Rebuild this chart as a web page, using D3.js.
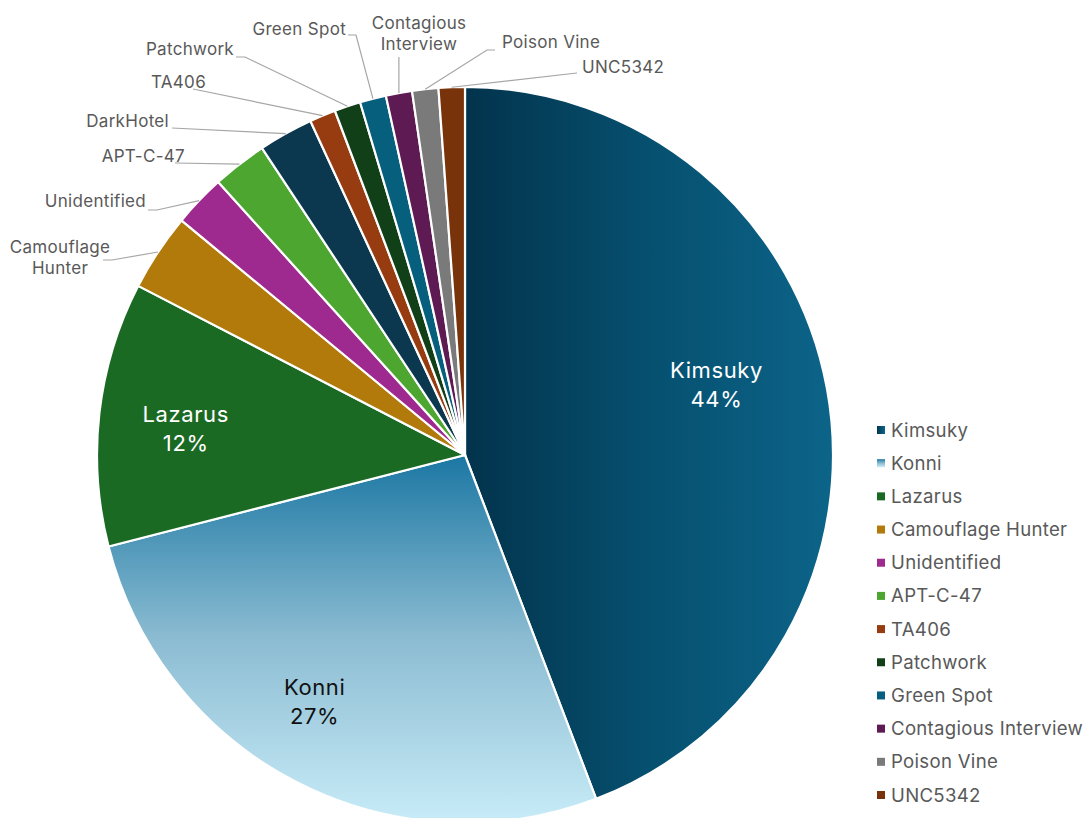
<!DOCTYPE html>
<html>
<head>
<meta charset="utf-8">
<script src="https://cdn.jsdelivr.net/npm/d3@7"></script>
<style>
  body { margin: 0; background: #ffffff; }
  text { font-family: Inter, "Noto Sans", sans-serif; }
</style>
</head>
<body>
<svg id="chart" width="1088" height="818"></svg>
<script>
// Share of observed activity by threat group (percent), clockwise from 12 o'clock
const groups = ["Kimsuky", "Konni", "Lazarus", "Camouflage Hunter", "Unidentified", "APT-C-47",
                "DarkHotel", "TA406", "Patchwork", "Green Spot", "Contagious Interview", "Poison Vine", "UNC5342"];
const shares = [44.2, 26.8, 11.6, 3.4, 2.3, 2.4, 2.4, 1.15, 1.15, 1.15, 1.15, 1.15, 1.15];

// Groups listed in the legend
const legendGroups = ["Kimsuky", "Konni", "Lazarus", "Camouflage Hunter", "Unidentified", "APT-C-47",
                      "TA406", "Patchwork", "Green Spot", "Contagious Interview", "Poison Vine", "UNC5342"];

// Groups labelled inside their slice (name + percent)
const insideLabelled = ["Kimsuky", "Konni", "Lazarus"];

const solidColors = {
  "Lazarus": "#1b6a24",
  "Camouflage Hunter": "#b27a0b",
  "Unidentified": "#9e2a8f",
  "APT-C-47": "#4ca62f",
  "DarkHotel": "#0b374f",
  "TA406": "#963c10",
  "Patchwork": "#113f17",
  "Green Spot": "#075f7e",
  "Contagious Interview": "#5e1a53",
  "Poison Vine": "#7a7a7a",
  "UNC5342": "#79330a"
};

const svg = d3.select("#chart");
const cx = 465, cy = 455, R = 368;

// Gradient fills for the two largest slices
const defs = svg.append("defs");
function gradient(id, units, x1, y1, x2, y2, stops) {
  const g = defs.append("linearGradient").attr("id", id).attr("gradientUnits", units)
    .attr("x1", x1).attr("y1", y1).attr("x2", x2).attr("y2", y2);
  stops.forEach(([o, c]) => g.append("stop").attr("offset", o).attr("stop-color", c));
}
const kimsukyStops = [[0, "#03334c"], [0.5, "#06506f"], [1, "#0c6489"]];
const konniStops = [[0, "#1b77a3"], [0.5, "#8cbcd2"], [1, "#c8ecf8"]];
// Slices are drawn in a group centred on the pie, so these run from the centre outwards
gradient("kimsukyFill", "userSpaceOnUse", 0, 0, R, 0, kimsukyStops);
gradient("konniFill", "userSpaceOnUse", 0, 0, 0, R, konniStops);
gradient("kimsukyKey", "objectBoundingBox", 0, 0, 1, 0, kimsukyStops);
gradient("konniKey", "objectBoundingBox", 0, 0, 0, 1, konniStops);

const fillFor = name => name === "Kimsuky" ? "url(#kimsukyFill)"
                      : name === "Konni" ? "url(#konniFill)" : solidColors[name];
const keyFillFor = name => name === "Kimsuky" ? "url(#kimsukyKey)"
                         : name === "Konni" ? "url(#konniKey)" : solidColors[name];

const data = groups.map((g, i) => ({ name: g, share: shares[i] }));
const total = d3.sum(shares);
const pct = v => Math.round(v / total * 100) + "%";

const pie = d3.pie().sort(null).value(d => d.share);
const arcs = pie(data);
const arc = d3.arc().innerRadius(0).outerRadius(R);

const plot = svg.append("g").attr("transform", `translate(${cx},${cy})`);
plot.selectAll("path.slice").data(arcs).join("path")
  .attr("class", "slice")
  .attr("d", arc)
  .attr("fill", d => fillFor(d.data.name))
  .attr("stroke", "#ffffff")
  .attr("stroke-width", 2.2)
  .attr("stroke-linejoin", "round");

// Point on the pie edge at a slice's mid-angle (page coordinates)
function edgePoint(d, r) {
  const a = (d.startAngle + d.endAngle) / 2;
  return [cx + r * Math.sin(a), cy - r * Math.cos(a)];
}

// Inside labels: placed near the slice centroid with a small nudge
const insideLayout = {
  "Kimsuky": { r: 275, dx: -19, dy: -23, color: "#ffffff" },
  "Konni":   { r: 275, dx: -24, dy: 0,   color: "#111111" },
  "Lazarus": { r: 275, dx: -6,  dy: 2,   color: "#ffffff" }
};
arcs.filter(d => insideLabelled.includes(d.data.name)).forEach(d => {
  const L = insideLayout[d.data.name];
  const [x, y] = edgePoint(d, L.r);
  const t = svg.append("text")
    .attr("x", x + L.dx).attr("y", y + L.dy)
    .attr("text-anchor", "middle")
    .attr("fill", L.color)
    .style("font-size", "22px")
    .style("letter-spacing", "0.6px");
  t.append("tspan").attr("x", x + L.dx).attr("dy", "-0.2em").text(d.data.name);
  t.append("tspan").attr("x", x + L.dx).attr("dy", "1.33em").text(pct(d.data.share));
});

// Outside labels with leader lines
const outsideLayout = {
  "Camouflage Hunter":    { x: 60,  y: 247, anchor: "middle", lines: ["Camouflage", "Hunter"], via: [[103, 260], [112, 260]] },
  "Unidentified":         { x: 146, y: 201, anchor: "end",    lines: ["Unidentified"], via: [[148, 210], [157, 210]] },
  "APT-C-47":             { x: 185, y: 156, anchor: "end",    lines: ["APT-C-47"], via: [[175, 163]] },
  "DarkHotel":            { x: 169, y: 121, anchor: "end",    lines: ["DarkHotel"], via: [[172, 128]] },
  "TA406":                { x: 206, y: 82,  anchor: "end",    lines: ["TA406"], via: [[193, 89]] },
  "Patchwork":            { x: 234, y: 49,  anchor: "end",    lines: ["Patchwork"], via: [[236, 57], [245, 57]] },
  "Green Spot":           { x: 346, y: 29,  anchor: "end",    lines: ["Green Spot"], via: [[348, 35], [356, 35]] },
  "Contagious Interview": { x: 419, y: 23,  anchor: "middle", lines: ["Contagious", "Interview"], via: "below" },
  "Poison Vine":          { x: 502, y: 42,  anchor: "start",  lines: ["Poison Vine"], via: [[495, 50], [487, 50]] },
  "UNC5342":              { x: 582, y: 67,  anchor: "start",  lines: ["UNC5342"], via: [[577, 73]] }
};

arcs.filter(d => outsideLayout[d.data.name]).forEach(d => {
  const L = outsideLayout[d.data.name];
  const end = edgePoint(d, R);
  const pts = L.via === "below" ? [[end[0], L.y + 34], end] : [...L.via, end];
  svg.append("path")
    .attr("d", d3.line()(pts))
    .attr("fill", "none")
    .attr("stroke", "#a6a6a6")
    .attr("stroke-width", 1.2);
  const t = svg.append("text")
    .attr("text-anchor", L.anchor)
    .attr("fill", "#595959")
    .style("font-size", "17px")
    .style("letter-spacing", "0.3px");
  L.lines.forEach((s, i) => {
    t.append("tspan").attr("x", L.x).attr("y", L.y + i * 21).attr("dy", "0.35em").text(s);
  });
});

// Legend
const legendY = d3.scalePoint().domain(legendGroups).range([430, 795]);
const legend = svg.append("g");
const rows = legend.selectAll("g").data(legendGroups).join("g")
  .attr("transform", d => `translate(877,${legendY(d)})`);
rows.append("rect")
  .attr("x", 0).attr("y", -4).attr("width", 8).attr("height", 8)
  .attr("fill", d => keyFillFor(d));
rows.append("text")
  .attr("x", 14).attr("y", 0).attr("dy", "0.35em")
  .attr("fill", "#595959")
  .style("font-size", "18.6px")
  .style("letter-spacing", "0.3px")
  .text(d => d);
</script>
</body>
</html>
